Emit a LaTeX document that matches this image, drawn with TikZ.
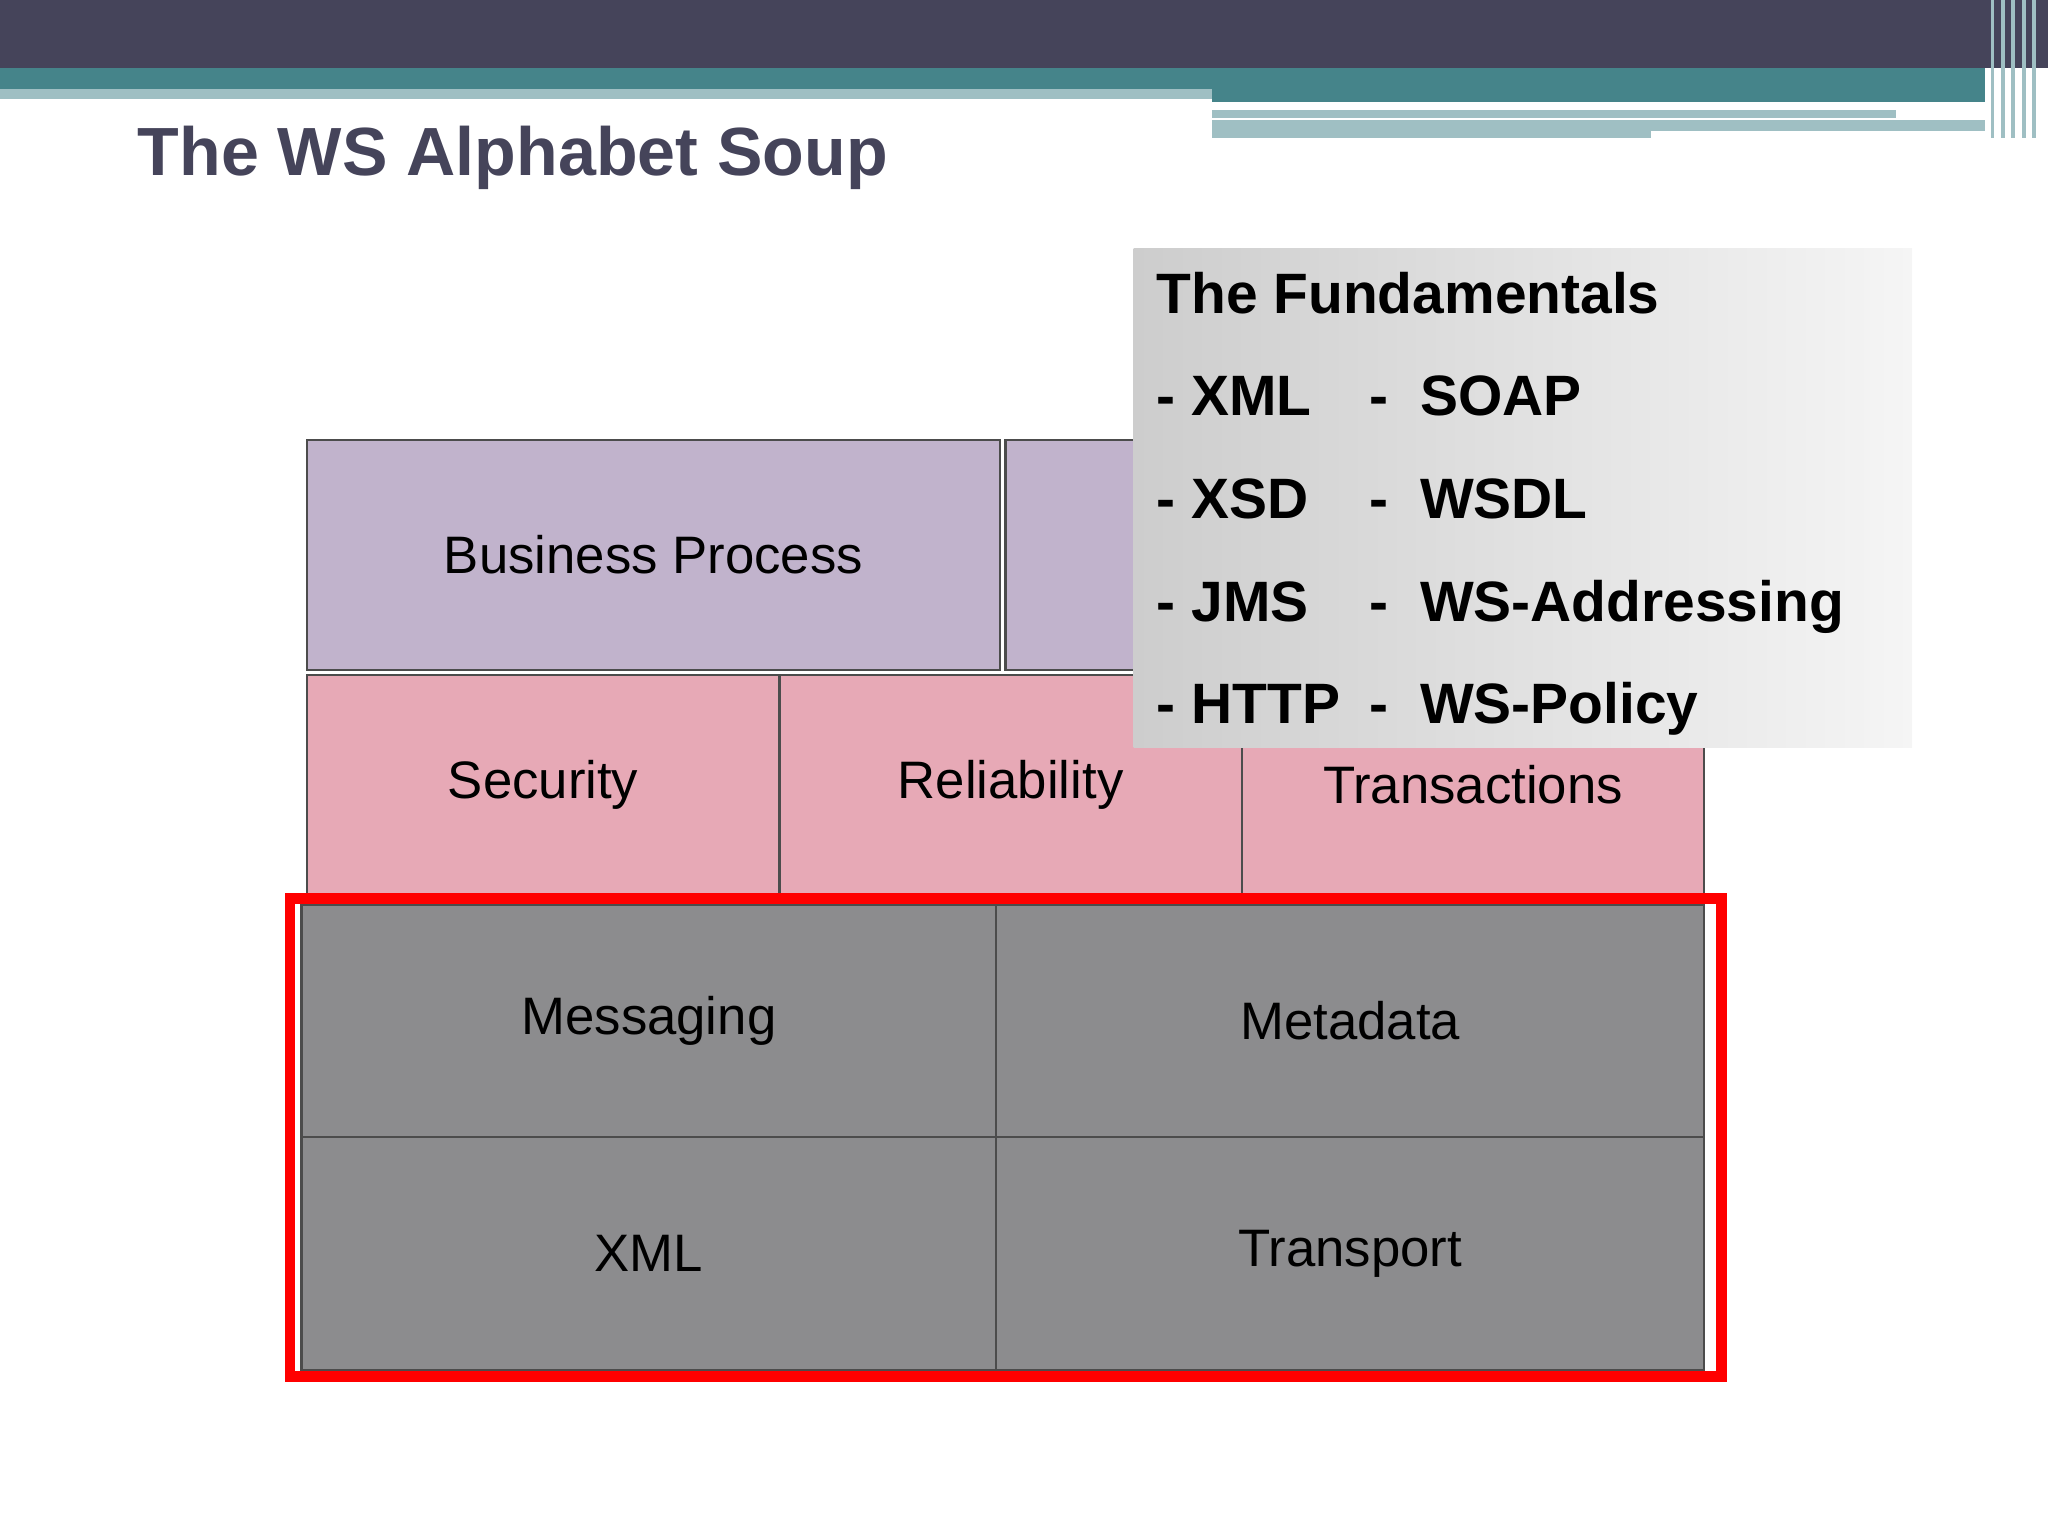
\documentclass[tikz,border=0pt]{standalone}
\usepackage{fontspec}
\setmainfont{Liberation Sans}
\begin{document}
\begin{tikzpicture}[x=0.013061cm,y=-0.013061cm,
 box/.style={draw=black!70,line width=0.6pt,font=\fontsize{15}{18}\selectfont},
 fund/.style={anchor=base west,inner sep=0pt,font=\fontsize{16.2}{20}\selectfont\bfseries}]
\useasboundingbox (0,0) rectangle (1568,1176);
\definecolor{dk}{HTML}{45445A}\definecolor{tl}{HTML}{45848A}\definecolor{lt}{HTML}{9FBFC3}
\fill[dk] (0,0) rectangle (1568,52);
\fill[tl] (0,52) rectangle (1520,68);
\fill[lt] (0,68) rectangle (928,76);
\fill[tl] (928,68) rectangle (1520,78);
\fill[lt] (928,84) rectangle (1452,90);
\fill[lt] (928,92) rectangle (1264,106);
\fill[lt] (1264,92) rectangle (1520,100);
\foreach \x in {1524,1532,1540,1548,1556}{\fill[lt] (\x,0) rectangle (\x+3,106);}
\node[anchor=base west,inner sep=0pt,text=dk,font=\fontsize{19.4}{24}\selectfont\bfseries] (title) at (105,134) {The WS Alphabet Soup};
\node[box,fill={rgb,255:red,193;green,179;blue,204},minimum width=531*0.013061cm,minimum height=176*0.013061cm,anchor=north west] (bp) at (234,336) {Business Process};
\node[box,fill={rgb,255:red,193;green,179;blue,204},minimum width=535*0.013061cm,minimum height=176*0.013061cm,anchor=north west] (bp2) at (769,336) {};
\begin{scope}[every node/.style={box,fill={rgb,255:red,231;green,169;blue,182},minimum height=168*0.013061cm,anchor=north west}]
\node[minimum width=362*0.013061cm] (sec) at (234,516) {Security};
\node[minimum width=354*0.013061cm] (rel) at (596,516) {Reliability};
\node[minimum width=354*0.013061cm] (tr) at (950,516) {Transactions};
\end{scope}
\begin{scope}[every node/.style={box,fill={rgb,255:red,140;green,140;blue,142},minimum height=178*0.013061cm,anchor=north west}]
\node[minimum width=532*0.013061cm] (msg) at (230,692) {Messaging};
\node[minimum width=542*0.013061cm] (md) at (762,692) {Metadata};
\node[minimum width=532*0.013061cm] (xml) at (230,870) {XML};
\node[minimum width=542*0.013061cm] (tp) at (762,870) {Transport};
\end{scope}
\draw[red,line width=2.97pt] (222,688) rectangle (1318,1054);
\shade[left color={rgb,255:red,205;green,205;blue,205},right color={rgb,255:red,245;green,245;blue,245}] (868,190) rectangle (1464,572);
\node[fund] (f0) at (885,240) {The Fundamentals};
\node[fund] (a1) at (885,318) {- XML};\node[fund] (b1) at (1048,318) {-\ \ SOAP};
\node[fund] (a2) at (885,397) {- XSD};\node[fund] (b2) at (1048,397) {-\ \ WSDL};
\node[fund] (a3) at (885,476) {- JMS};\node[fund] (b3) at (1048,476) {-\ \ WS-Addressing};
\node[fund] (a4) at (885,554) {- HTTP};\node[fund] (b4) at (1048,554) {-\ \ WS-Policy};
\end{tikzpicture}
\end{document}
